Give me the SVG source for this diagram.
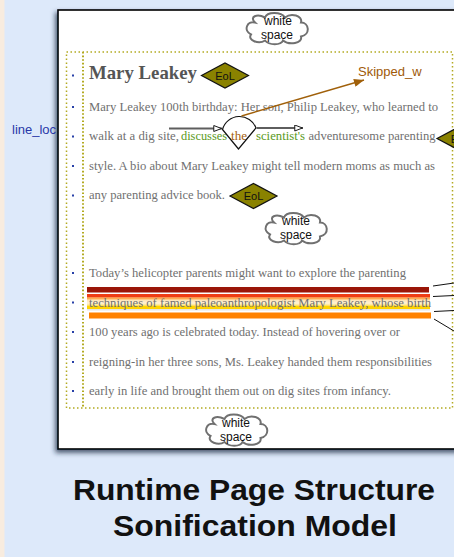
<svg xmlns="http://www.w3.org/2000/svg" width="454" height="557" viewBox="0 0 454 557">
  <defs>
    <style>
      .body { font-family: "Liberation Serif", "Times New Roman", serif; font-size: 12.8px; fill: #707070; }
      .sans { font-family: "Liberation Sans", Arial, sans-serif; }
      .cloud { fill: #ffffff; stroke: #707070; stroke-width: 2; }
      .cloudtxt { font-family: "Liberation Sans", Arial, sans-serif; font-size: 12px; fill: #111; text-anchor: middle; }
      .eol { fill: #8a8200; stroke: #111; stroke-width: 1.2; }
      .eoltxt { font-family: "Liberation Sans", Arial, sans-serif; font-size: 11px; fill: #111; text-anchor: middle; }
      .bullet { fill: #2840a8; }
      .dots { fill: none; stroke: #b3aa22; stroke-width: 1.5; stroke-dasharray: 1.5 2.5; }
      .green { fill: #5a9a22; }
      .brown { fill: #a55f10; }
      .ray { stroke: #111; stroke-width: 1; fill: none; }
    </style>
    <filter id="pageShadow" x="-5%" y="-5%" width="110%" height="110%">
      <feDropShadow dx="-2" dy="3" stdDeviation="2.5" flood-color="#1c2a40" flood-opacity="0.75"/>
    </filter>
    <marker id="openHead" viewBox="0 0 10 8" refX="10" refY="4" markerWidth="9" markerHeight="7" markerUnits="userSpaceOnUse" orient="auto">
      <path d="M0.6,0.6 L9.4,4 L0.6,7.4 Z" fill="#fff" stroke="#111" stroke-width="1.1"/>
    </marker>
    <marker id="brownHead" viewBox="0 0 10 8" refX="10" refY="4" markerWidth="11" markerHeight="8" markerUnits="userSpaceOnUse" orient="auto">
      <path d="M0,0 L10,4 L0,8 Z" fill="#a0600a"/>
    </marker>
    <path id="cloudShape" d="M-22,-6 C-30,-8 -34,2 -26,6 C-30,12 -18,16 -12,12 C-8,17 4,17 6,12 C12,17 26,15 24,8 C34,6 32,-6 24,-6 C26,-13 14,-16 8,-11 C4,-17 -10,-17 -12,-11 C-20,-15 -28,-12 -22,-6 Z"/>
    <path id="diamond" d="M-23.5,0 L0,-12.5 L23.5,0 L0,12.5 Z"/>
    <linearGradient id="warm" x1="0" y1="0" x2="0" y2="1">
      <stop offset="0" stop-color="#ff8a1a"/>
      <stop offset="0.35" stop-color="#ffe6b8"/>
      <stop offset="0.7" stop-color="#fff3d6"/>
      <stop offset="1" stop-color="#ffe27a"/>
    </linearGradient>
  </defs>

  <!-- backdrop -->
  <rect x="0" y="0" width="454" height="557" fill="#dde9fa"/>
  <rect x="0" y="0" width="4.5" height="557" fill="#f8ecdf"/>

  <!-- page sheet -->
  <g id="page">
    <rect x="58" y="10" width="410" height="439" fill="#ffffff" stroke="#000" stroke-width="1.6" filter="url(#pageShadow)"/>
  </g>

  <!-- text block frame -->
  <g id="textblock-frame">
    <rect class="dots" x="66.5" y="52" width="386" height="356"/>
    <line x1="83" y1="52" x2="83" y2="408" stroke="#b3aa22" stroke-width="2" stroke-dasharray="1.6 2"/>
  </g>

  <!-- highlight bands behind the marked line -->
  <g id="bands">
    <rect x="87" y="287" width="342" height="5.5" fill="#9a1608"/>
    <rect x="87" y="294" width="343" height="3.5" fill="#ef3d14"/>
    <rect x="87" y="297.5" width="343" height="8" fill="url(#warm)"/>
    <rect x="87" y="305.5" width="343" height="3.5" fill="#ffd400"/>
    <rect x="87" y="309" width="343" height="1.5" fill="#e6e6e6"/>
    <rect x="89" y="312.5" width="342" height="6" fill="#ff8200"/>
  </g>

  <!-- bullets -->
  <g id="bullets">
    <rect class="bullet" x="72" y="74.5" width="2" height="2"/>
    <rect class="bullet" x="72" y="106" width="2" height="2"/>
    <rect class="bullet" x="72" y="135.5" width="2" height="2"/>
    <rect class="bullet" x="72" y="165" width="2" height="2"/>
    <rect class="bullet" x="72" y="194.5" width="2" height="2"/>
    <rect class="bullet" x="72" y="272" width="2" height="2"/>
    <rect class="bullet" x="72" y="301.5" width="2" height="2"/>
    <rect class="bullet" x="72" y="331" width="2" height="2"/>
    <rect class="bullet" x="72" y="361" width="2" height="2"/>
    <rect class="bullet" x="72" y="390" width="2" height="2"/>
  </g>

  <!-- article text -->
  <g id="article">
    <text x="89" y="79" font-family="Liberation Serif, Times New Roman, serif" font-size="19.5" font-weight="bold" fill="#555" textLength="108" lengthAdjust="spacingAndGlyphs">Mary Leakey</text>
    <text class="body" x="89" y="111" textLength="349" lengthAdjust="spacingAndGlyphs">Mary Leakey 100th birthday: Her son, Philip Leakey, who learned to</text>
    <text class="body" y="140"><tspan x="89">walk at a dig site,</tspan><tspan class="green" x="181" textLength="46" lengthAdjust="spacingAndGlyphs">discusses</tspan><tspan class="brown" x="231" textLength="16" lengthAdjust="spacingAndGlyphs">the</tspan><tspan class="green" x="256" textLength="49" lengthAdjust="spacingAndGlyphs">scientist's</tspan><tspan x="308.5" textLength="127" lengthAdjust="spacingAndGlyphs">adventuresome parenting</tspan></text>
    <text class="body" x="89" y="170" textLength="346" lengthAdjust="spacingAndGlyphs">style. A bio about Mary Leakey might tell modern moms as much as</text>
    <text class="body" x="89" y="199" textLength="136" lengthAdjust="spacingAndGlyphs">any parenting advice book.</text>
    <text class="body" x="89" y="277" textLength="317" lengthAdjust="spacingAndGlyphs">Today’s helicopter parents might want to explore the parenting</text>
    <text class="body" x="89" y="306.5" textLength="342" lengthAdjust="spacingAndGlyphs">techniques of famed paleoanthropologist Mary Leakey, whose birth</text>
    <text class="body" x="89" y="336" textLength="311" lengthAdjust="spacingAndGlyphs">100 years ago is celebrated today. Instead of hovering over or</text>
    <text class="body" x="89" y="366" textLength="343" lengthAdjust="spacingAndGlyphs">reigning-in her three sons, Ms. Leakey handed them responsibilities</text>
    <text class="body" x="89" y="395" textLength="302" lengthAdjust="spacingAndGlyphs">early in life and brought them out on dig sites from infancy.</text>
  </g>

  <!-- white space clouds -->
  <g id="ws-top">
    <use href="#cloudShape" class="cloud" transform="translate(277,28.5)"/>
    <text class="cloudtxt" x="278" y="25">white</text>
    <text class="cloudtxt" x="277" y="39">space</text>
  </g>
  <g id="ws-middle">
    <use href="#cloudShape" class="cloud" transform="translate(296,228.5)"/>
    <text class="cloudtxt" x="296" y="225">white</text>
    <text class="cloudtxt" x="296" y="239">space</text>
  </g>
  <g id="ws-bottom">
    <use href="#cloudShape" class="cloud" transform="translate(236.5,430)"/>
    <text class="cloudtxt" x="236" y="427">white</text>
    <text class="cloudtxt" x="236" y="441">space</text>
  </g>

  <!-- end-of-line markers -->
  <g id="eol-title">
    <use href="#diamond" class="eol" transform="translate(225,75.5)"/>
    <text class="eoltxt" x="225" y="79.5">EoL</text>
  </g>
  <g id="eol-para">
    <use href="#diamond" class="eol" transform="translate(253.5,196)"/>
    <text class="eoltxt" x="253.5" y="200">EoL</text>
  </g>
  <g id="eol-right">
    <use href="#diamond" class="eol" transform="translate(460.5,138.5)"/>
    <text class="eoltxt" x="460.5" y="142.5">EoL</text>
  </g>

  <!-- skip junction -->
  <g id="skip-fan">
    <path d="M238.5,149 L222.5,129.5 A17.6,17.6 0 0 1 256,128 Z" fill="none" stroke="#111" stroke-width="1.2"/>
  </g>

  <!-- labels -->
  <g id="label-lineloc">
    <text class="sans" x="12" y="134" font-size="13" fill="#2838a8">line_loc</text>
  </g>
  <g id="label-skipped">
    <text class="sans" x="358" y="76" font-size="13" fill="#a05a08">Skipped_w</text>
  </g>

  <!-- connectors -->
  <g id="connectors">
    <line x1="169" y1="128.5" x2="222" y2="128.5" stroke="#5e5e5e" stroke-width="1.8" marker-end="url(#openHead)"/>
    <line x1="256.5" y1="128" x2="303" y2="128" stroke="#5e5e5e" stroke-width="1.8" marker-end="url(#openHead)"/>
    <line x1="241.5" y1="116" x2="364" y2="80" stroke="#a0600a" stroke-width="1.4" marker-end="url(#brownHead)"/>
    <line class="ray" x1="433" y1="286" x2="454" y2="283"/>
    <line class="ray" x1="433" y1="296.5" x2="454" y2="295.5"/>
    <line class="ray" x1="434" y1="311.5" x2="454" y2="310.5"/>
    <line class="ray" x1="434" y1="319" x2="454" y2="331"/>
  </g>

  <!-- caption -->
  <g id="caption">
    <text class="sans" x="254" y="500" font-size="30" font-weight="bold" fill="#111" text-anchor="middle" textLength="362" lengthAdjust="spacingAndGlyphs">Runtime Page Structure</text>
    <text class="sans" x="255" y="536" font-size="30" font-weight="bold" fill="#111" text-anchor="middle" textLength="284" lengthAdjust="spacingAndGlyphs">Sonification Model</text>
  </g>
</svg>
